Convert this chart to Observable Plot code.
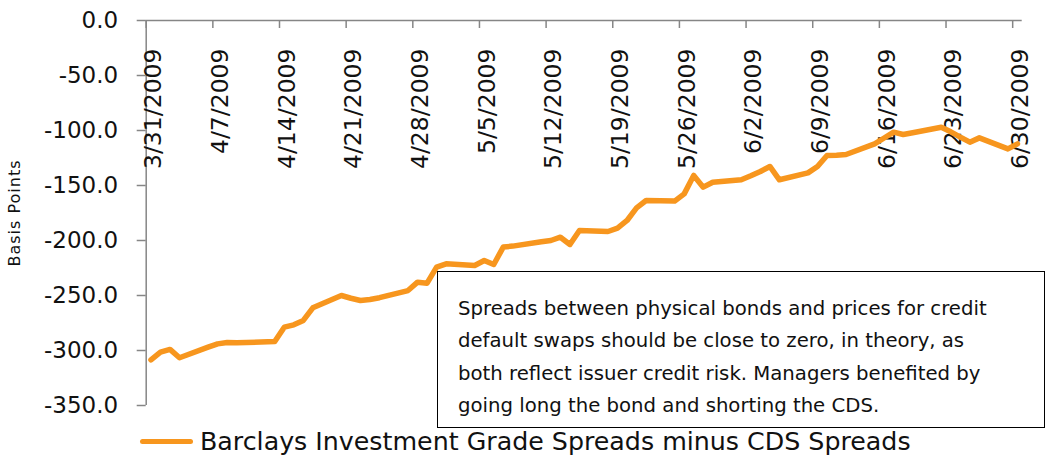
<!DOCTYPE html>
<html>
<head>
<meta charset="utf-8">
<script src="https://cdn.jsdelivr.net/npm/d3@7"></script>
<script src="https://cdn.jsdelivr.net/npm/@observablehq/plot@0.6"></script>
<style>
  html, body { margin: 0; padding: 0; background: #fff; }
  #wrap { position: relative; width: 1047px; height: 459px; overflow: hidden; font-family: "DejaVu Sans", sans-serif; }
  #chart svg { display: block; }
  #note { position: absolute; left: 437px; top: 271px; width: 608px; height: 157px; box-sizing: border-box;
          border: 1px solid #000; background: #fff; padding: 21px 0 0 20px; font-size: 19.7px; line-height: 32.3px; color: #111; }
  #legend { position: absolute; left: 140px; top: 424px; height: 34px; display: flex; align-items: center; }
  #legend .sw { display: inline-block; width: 53px; height: 5px; background: #F7961E; border-radius: 2.5px; margin-right: 7px; }
  #legend .lb { font-size: 25.3px; color: #111; white-space: nowrap; }
</style>
</head>
<body>
<div id="wrap">
  <div id="chart"></div>
  <div id="note"></div>
  <div id="legend"><span class="sw"></span><span class="lb"></span></div>
</div>
<script>
// ---- data ----
const dates = [
  "2009-03-31","2009-04-01","2009-04-02","2009-04-03",
  "2009-04-06","2009-04-07","2009-04-08","2009-04-09",
  "2009-04-13","2009-04-14","2009-04-15","2009-04-16","2009-04-17",
  "2009-04-20","2009-04-21","2009-04-22","2009-04-23","2009-04-24",
  "2009-04-27","2009-04-28","2009-04-29","2009-04-30","2009-05-01",
  "2009-05-04","2009-05-05","2009-05-06","2009-05-07","2009-05-08",
  "2009-05-11","2009-05-12","2009-05-13","2009-05-14","2009-05-15",
  "2009-05-18","2009-05-19","2009-05-20","2009-05-21","2009-05-22",
  "2009-05-25","2009-05-26","2009-05-27","2009-05-28","2009-05-29",
  "2009-06-01","2009-06-02","2009-06-03","2009-06-04","2009-06-05",
  "2009-06-08","2009-06-09","2009-06-10","2009-06-11","2009-06-12",
  "2009-06-15","2009-06-16","2009-06-17","2009-06-18","2009-06-19",
  "2009-06-22","2009-06-23","2009-06-24","2009-06-25","2009-06-26",
  "2009-06-29","2009-06-30"
];
const values = [
  -308.5,-301.5,-299.0,-306.6,
  -297.0,-294.0,-292.7,-293.0,
  -291.8,-278.8,-276.7,-272.7,-261.2,
  -250.0,-252.5,-254.5,-253.6,-252.0,
  -245.5,-237.9,-238.8,-224.2,-221.2,
  -222.7,-218.2,-221.8,-206.0,-205.1,
  -201.2,-200.0,-197.0,-203.6,-190.9,
  -191.8,-188.8,-181.8,-170.3,-163.6,
  -164.2,-157.6,-140.9,-151.5,-147.0,
  -144.8,-141.2,-137.3,-132.7,-144.8,
  -138.5,-132.7,-122.7,-122.4,-121.8,
  -112.1,-106.8,-101.5,-103.6,-102.0,
  -97.0,-101.2,-106.0,-110.6,-106.7,
  -116.7,-112.1
];
const tickDates = [
  "2009-03-31","2009-04-07","2009-04-14","2009-04-21","2009-04-28",
  "2009-05-05","2009-05-12","2009-05-19","2009-05-26",
  "2009-06-02","2009-06-09","2009-06-16","2009-06-23","2009-06-30"
];
const xDomain = ["2009-03-31","2009-07-01"];
const yTicks = [0,-50,-100,-150,-200,-250,-300,-350];
const yDomain = [-350, 0];
const yLabel = "Basis Points";
const seriesName = "Barclays Investment Grade Spreads minus CDS Spreads";
const noteLines = [
  "Spreads between physical bonds and prices for credit",
  "default swaps should be close to zero, in theory, as",
  "both reflect issuer credit risk. Managers benefited by",
  "going long the bond and shorting the CDS."
];

// ---- build ----
const W = 1047, H = 425, MT = 20, MB = 20;
const parse = s => new Date(s + "T00:00:00Z");
const noon = d => new Date(+d + 12 * 3600e3);
const data = dates.map((d, i) => ({date: noon(parse(d)), value: values[i]}));
const ticks = tickDates.map(parse);
const fmt = d => `${d.getUTCMonth() + 1}/${d.getUTCDate()}/${d.getUTCFullYear()}`;
const axisColor = "#868686";
const lineColor = "#F7961E";
// an 8px tick length, expressed in y units
const tickLen = 8 * (yDomain[1] - yDomain[0]) / (H - MT - MB);

const chart = Plot.plot({
  width: W, height: H,
  marginTop: MT, marginLeft: 145.7, marginRight: 25.3, marginBottom: MB,
  style: {fontFamily: "DejaVu Sans", background: "white", overflow: "visible"},
  x: {type: "utc", domain: xDomain.map(parse), axis: null},
  y: {domain: yDomain, axis: null},
  marks: [
    Plot.ruleY([yDomain[1]], {stroke: axisColor, strokeWidth: 1.5}),
    Plot.ruleX([parse(xDomain[0])], {stroke: axisColor, strokeWidth: 1.5}),
    Plot.axisY({ticks: yTicks, tickSize: 9, tickPadding: 19, tickFormat: d => d.toFixed(1),
                fontSize: 23, stroke: axisColor, strokeWidth: 1.5, fill: "#111", label: null}),
    Plot.ruleX(ticks, {x: d => d, y1: yDomain[1], y2: yDomain[1] - tickLen, stroke: axisColor, strokeWidth: 1.5}),
    Plot.text(ticks, {x: noon, frameAnchor: "top", text: fmt, rotate: -90, textAnchor: "end",
                      lineAnchor: "middle", dy: 28, dx: 3, fontSize: 23.5, fill: "#111"}),
    Plot.text([yLabel], {frameAnchor: "left", rotate: -90, dx: -131.7, textAnchor: "middle",
                         lineAnchor: "middle", fontSize: 16, fill: "#111"}),
    Plot.line(data, {x: "date", y: "value", stroke: lineColor, strokeWidth: 5.5,
                     strokeLinejoin: "round", strokeLinecap: "round"})
  ]
});
document.getElementById("chart").appendChild(chart);
d3.select(chart).selectAll("text").filter(function() { return this.textContent === yLabel; })
  .style("letter-spacing", "1px");

document.getElementById("note").innerHTML = noteLines.map(t => `<div>${t}</div>`).join("");
document.querySelector("#legend .lb").textContent = seriesName;
</script>
</body>
</html>
